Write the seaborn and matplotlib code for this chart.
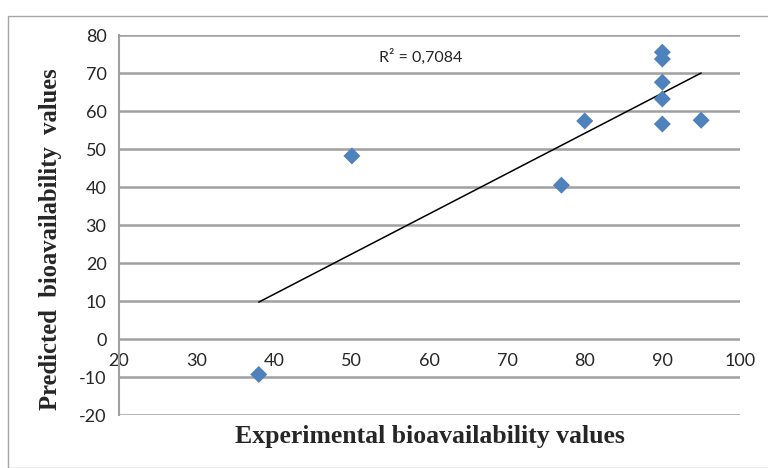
import numpy as np
import pandas as pd
import matplotlib
matplotlib.use("Agg")
import matplotlib.pyplot as plt
import seaborn as sns
from matplotlib.patches import Rectangle

# values
experimental = [38, 50, 77, 80, 90, 90, 90, 90, 90, 95]
predicted = [-9.3, 48.2, 40.5, 57.4, 75.5, 73.7, 67.6, 63.2, 56.6, 57.6]
r2_label = "R² = 0,7084"
x_ticks = [20, 30, 40, 50, 60, 70, 80, 90, 100]
y_ticks = [-20, -10, 0, 10, 20, 30, 40, 50, 60, 70, 80]

df = pd.DataFrame({"Experimental": experimental, "Predicted": predicted})

sns.set_style("white")
plt.rcParams["font.family"] = ["Lato", "DejaVu Sans"]
plt.rcParams["axes.unicode_minus"] = False

fig = plt.figure(figsize=(7.68, 4.68), dpi=100)
fig.patches.append(Rectangle((0.0104, 0.0), 1.0, 0.966, transform=fig.transFigure,
                             fill=False, edgecolor="#a6a6a6", linewidth=1.0))
ax = fig.add_axes([0.155, 0.113, 0.8085, 0.812])

grid_c = "#a0a0a0"
for yv in y_ticks:
    ax.axhline(yv, color=grid_c, linewidth=1.8, zorder=1)

# linear trend line over the data range
slope, intercept = np.polyfit(experimental, predicted, 1)
xs = np.array([min(experimental), max(experimental)])
sns.lineplot(x=xs, y=slope * xs + intercept, color="black", linewidth=1.1, ax=ax, zorder=2)

sns.scatterplot(data=df, x="Experimental", y="Predicted", marker="D", s=75,
                color="#4f81bd", edgecolor="none", ax=ax, zorder=3)

ax.text(53.5, 74.2, r2_label, fontsize=11.5, va="center", ha="left")

ax.set_xlim(20, 100)
ax.set_ylim(-20, 80)
ax.set_xticks(x_ticks)
ax.set_yticks(y_ticks)
ax.tick_params(axis="both", length=0, labelsize=13)
ax.tick_params(axis="x", pad=10)
ax.tick_params(axis="y", pad=9)

for s in ["top", "right"]:
    ax.spines[s].set_visible(False)
ax.spines["bottom"].set_position(("data", 0))
ax.spines["bottom"].set_visible(False)
ax.spines["left"].set_color(grid_c)
ax.spines["left"].set_linewidth(1.5)

ax.set_xlabel("")
ax.set_ylabel("")
fig.text(0.56, 0.068, "Experimental bioavailability values", ha="center", va="center",
         fontsize=18.5, fontweight="bold", family="Liberation Serif")
fig.text(0.066, 0.488, "Predicted  bioavailability  values", ha="center", va="center",
         rotation=90, fontsize=17.7, fontweight="bold", family="Liberation Serif")

fig.savefig("out.png", dpi=100)
